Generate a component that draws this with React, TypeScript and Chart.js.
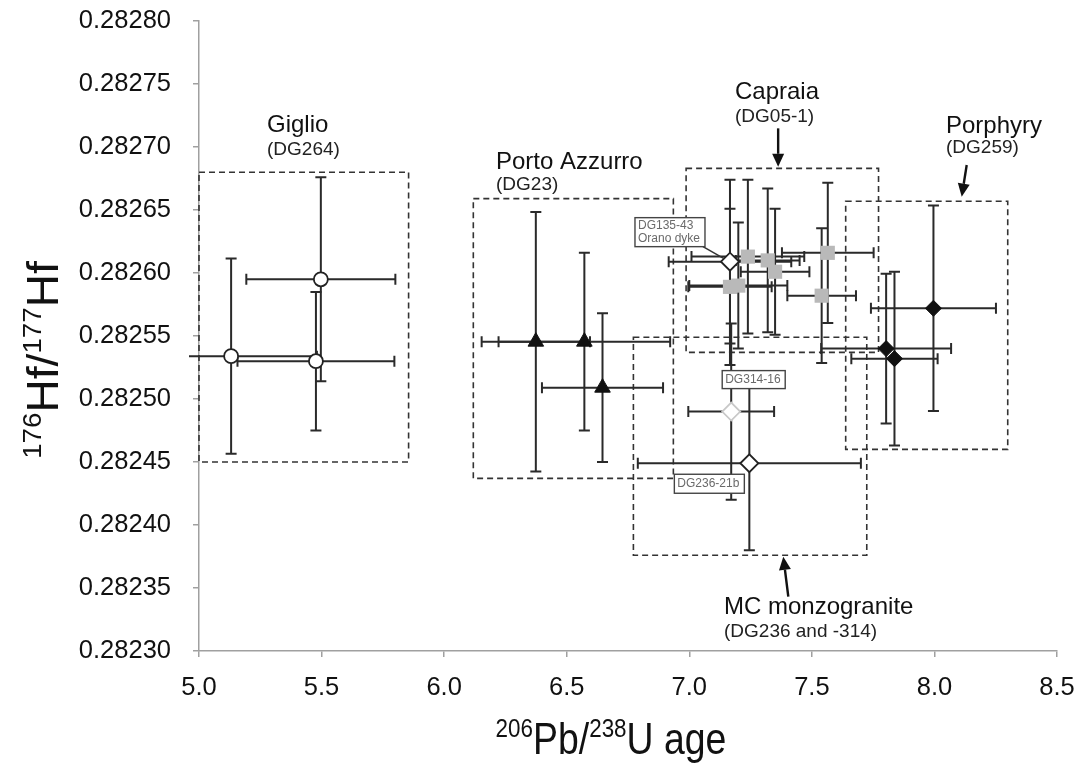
import React, { useEffect, useRef } from "react";
import { Chart, registerables } from "chart.js";

Chart.register(...registerables);

// ---------------- data ----------------
const xMin = 5.0;
const xMax = 8.5;
const xStep = 0.5;
const yMin = 0.2823;
const yMax = 0.2828;
const yStep = 0.00005;

// Giglio (DG264) – open circles
const giglioX = [5.131, 5.477, 5.497];
const giglioY = [0.282534, 0.28253, 0.282595];
const giglioXErr = [0.35, 0.32, 0.304];
const giglioYErr = [0.0000775, 0.000055, 0.000081];

// Porto Azzurro (DG23) – black triangles
const portoX = [6.374, 6.572, 6.646];
const portoY = [0.2825455, 0.2825455, 0.282509];
const portoXErr = [0.221, 0.35, 0.247];
const portoYErr = [0.000103, 0.0000705, 0.000059];

// Capraia (DG05-1) – grey squares
const capraiaX = [7.239, 7.32, 7.35, 7.2, 7.166, 7.565, 7.54];
const capraiaY = [0.282613, 0.28261, 0.282601, 0.28259, 0.282589, 0.282616, 0.282582];
const capraiaXErr = [0.23, 0.13, 0.14, 0.2, 0.17, 0.187, 0.14];
const capraiaYErr = [0.000061, 0.000057, 0.00005, 0.00005, 0.000062, 0.0000556, 0.0000535];

// Porphyry (DG259) – black diamonds
const porphyryX = [7.996, 7.803, 7.837];
const porphyryY = [0.282572, 0.28254, 0.282532];
const porphyryXErr = [0.255, 0.265, 0.176];
const porphyryYErr = [0.0000815, 0.0000595, 0.000069];

// Single labelled samples – open diamonds
const singleNames = ["DG135-43", "DG236-21b", "DG314-16"];
const singleX = [7.166, 7.245, 7.171];
const singleY = [0.282609, 0.282449, 0.28249];
const singleXErr = [0.25, 0.455, 0.175];
const singleYErr = [0.000065, 0.000069, 0.00007];

// Dashed group boxes
const boxXLo = [5.0, 6.119, 6.987, 7.638, 6.772];
const boxXHi = [5.855, 6.935, 7.772, 8.299, 7.724];
const boxYLo = [0.28245, 0.282437, 0.282537, 0.28246, 0.282376];
const boxYHi = [0.28268, 0.282659, 0.282683, 0.282657, 0.282549];

// Group labels
const groupTitles = ["Giglio", "Porto Azzurro", "Capraia", "Porphyry", "MC monzogranite"];
const groupSubs = ["(DG264)", "(DG23)", "(DG05-1)", "(DG259)", "(DG236 and -314)"];
const groupLabelX = [5.2774, 6.2115, 7.1865, 8.0472, 7.1416];
const groupTitleY = [0.2827175, 0.2826881, 0.2827437, 0.2827167, 0.2823349];
const groupSubY = [0.2826976, 0.2826698, 0.2827238, 0.2826992, 0.2823151];

// Arrows (tail -> head)
const arrowX0 = [7.3625, 8.1317, 7.4039];
const arrowY0 = [0.2827148, 0.2826857, 0.2823431];
const arrowX1 = [7.3625, 8.1113, 7.3835];
const arrowY1 = [0.2826843, 0.2826606, 0.2823748];

// Callout label texts for single samples
const calloutLines = [["DG135-43", "Orano dyke"], ["DG236-21b"], ["DG314-16"]];

// ---------------- styles ----------------
const FONT = '"Liberation Sans", Arial, Helvetica, sans-serif';
const calloutBox = [
  { dx: -95, dy: -44, w: 70, h: 29, leader: true },
  { dx: -75, dy: 11, w: 70, h: 19, leader: false },
  { dx: -9, dy: -41, w: 63, h: 18, leader: false },
];

type Group = { x: number[]; y: number[]; xe: number[]; ye: number[] };
const errGroups: Group[] = [
  { x: giglioX, y: giglioY, xe: giglioXErr, ye: giglioYErr },
  { x: portoX, y: portoY, xe: portoXErr, ye: portoYErr },
  { x: capraiaX, y: capraiaY, xe: capraiaXErr, ye: capraiaYErr },
  { x: porphyryX, y: porphyryY, xe: porphyryXErr, ye: porphyryYErr },
  { x: singleX, y: singleY, xe: singleXErr, ye: singleYErr },
];

const pts = (xs: number[], ys: number[]) => xs.map((x, i) => ({ x, y: ys[i] }));

function drawRich(
  ctx: CanvasRenderingContext2D,
  segs: { t: string; sup?: boolean }[],
  cx: number,
  cy: number,
  size: number,
  sx: number,
  rotate: boolean
) {
  ctx.save();
  ctx.translate(cx, cy);
  if (rotate) ctx.rotate(-Math.PI / 2);
  ctx.scale(sx, 1);
  const supSize = size * 0.6;
  let total = 0;
  const widths = segs.map((s) => {
    ctx.font = `${s.sup ? supSize : size}px ${FONT}`;
    const w = ctx.measureText(s.t).width;
    total += w;
    return w;
  });
  let x = -total / 2;
  ctx.fillStyle = "#111";
  ctx.textBaseline = "alphabetic";
  ctx.textAlign = "left";
  const base = size * 0.36;
  segs.forEach((s, i) => {
    ctx.font = `${s.sup ? supSize : size}px ${FONT}`;
    ctx.fillText(s.t, x, s.sup ? base - size * 0.38 : base);
    x += widths[i];
  });
  ctx.restore();
}

const overlayPlugin = {
  id: "overlay",
  beforeDatasetsDraw(chart: any) {
    const ctx: CanvasRenderingContext2D = chart.ctx;
    const xs = chart.scales.x;
    const ys = chart.scales.y;
    const area = chart.chartArea;
    // dashed boxes
    ctx.save();
    ctx.strokeStyle = "#333";
    ctx.lineWidth = 1.6;
    ctx.setLineDash([6, 4]);
    for (let i = 0; i < boxXLo.length; i++) {
      const l = xs.getPixelForValue(boxXLo[i]);
      const r = xs.getPixelForValue(boxXHi[i]);
      const t = ys.getPixelForValue(boxYHi[i]);
      const b = ys.getPixelForValue(boxYLo[i]);
      ctx.strokeRect(l, t, r - l, b - t);
    }
    ctx.restore();
    // error bars
    ctx.save();
    ctx.beginPath();
    ctx.rect(area.left - 10, 0, area.right - area.left + 30, chart.height);
    ctx.clip();
    ctx.strokeStyle = "#2a2a2a";
    ctx.lineWidth = 2;
    const cap = 5.5;
    errGroups.forEach((g) => {
      g.x.forEach((xv, i) => {
        const px = xs.getPixelForValue(xv);
        const py = ys.getPixelForValue(g.y[i]);
        const x0 = xs.getPixelForValue(xv - g.xe[i]);
        const x1 = xs.getPixelForValue(xv + g.xe[i]);
        const y0 = ys.getPixelForValue(g.y[i] + g.ye[i]);
        const y1 = ys.getPixelForValue(g.y[i] - g.ye[i]);
        ctx.beginPath();
        ctx.moveTo(x0, py);
        ctx.lineTo(x1, py);
        ctx.moveTo(x0, py - cap);
        ctx.lineTo(x0, py + cap);
        ctx.moveTo(x1, py - cap);
        ctx.lineTo(x1, py + cap);
        ctx.moveTo(px, y0);
        ctx.lineTo(px, y1);
        ctx.moveTo(px - cap, y0);
        ctx.lineTo(px + cap, y0);
        ctx.moveTo(px - cap, y1);
        ctx.lineTo(px + cap, y1);
        ctx.stroke();
      });
    });
    ctx.restore();
  },
  afterDatasetsDraw(chart: any) {
    const ctx: CanvasRenderingContext2D = chart.ctx;
    const xs = chart.scales.x;
    const ys = chart.scales.y;
    // callouts
    ctx.save();
    singleX.forEach((xv, i) => {
      const px = xs.getPixelForValue(xv);
      const py = ys.getPixelForValue(singleY[i]);
      const b = calloutBox[i];
      const bx = px + b.dx;
      const by = py + b.dy;
      if (b.leader) {
        ctx.strokeStyle = "#333";
        ctx.lineWidth = 1.5;
        ctx.beginPath();
        ctx.moveTo(bx + b.w - 2, by + b.h);
        ctx.lineTo(px - 6, py - 3);
        ctx.stroke();
      }
      ctx.fillStyle = "#fff";
      ctx.fillRect(bx, by, b.w, b.h);
      ctx.strokeStyle = "#444";
      ctx.lineWidth = 1.4;
      ctx.strokeRect(bx, by, b.w, b.h);
      ctx.fillStyle = "#6a6a6a";
      ctx.font = `12px ${FONT}`;
      ctx.textAlign = "left";
      ctx.textBaseline = "middle";
      const lines = calloutLines[i];
      lines.forEach((ln, k) => {
        ctx.fillText(ln, bx + 3, by + b.h / 2 + (k - (lines.length - 1) / 2) * 13.5);
      });
    });
    ctx.restore();
    // arrows
    ctx.save();
    ctx.strokeStyle = "#111";
    ctx.fillStyle = "#111";
    ctx.lineWidth = 2.4;
    arrowX0.forEach((_, i) => {
      const ax = xs.getPixelForValue(arrowX0[i]);
      const ay = ys.getPixelForValue(arrowY0[i]);
      const bx = xs.getPixelForValue(arrowX1[i]);
      const by = ys.getPixelForValue(arrowY1[i]);
      const ang = Math.atan2(by - ay, bx - ax);
      const hl = 13;
      const hw = 6;
      const hx = bx - Math.cos(ang) * hl;
      const hy = by - Math.sin(ang) * hl;
      ctx.beginPath();
      ctx.moveTo(ax, ay);
      ctx.lineTo(hx, hy);
      ctx.stroke();
      ctx.beginPath();
      ctx.moveTo(bx, by);
      ctx.lineTo(hx + Math.sin(ang) * hw, hy - Math.cos(ang) * hw);
      ctx.lineTo(hx - Math.sin(ang) * hw, hy + Math.cos(ang) * hw);
      ctx.closePath();
      ctx.fill();
    });
    ctx.restore();
    // group labels
    ctx.save();
    ctx.textAlign = "left";
    ctx.textBaseline = "middle";
    groupTitles.forEach((t, i) => {
      const px = xs.getPixelForValue(groupLabelX[i]);
      ctx.fillStyle = "#111";
      ctx.font = `24px ${FONT}`;
      ctx.fillText(t, px, ys.getPixelForValue(groupTitleY[i]));
      ctx.fillStyle = "#222";
      ctx.font = `19px ${FONT}`;
      ctx.fillText(groupSubs[i], px, ys.getPixelForValue(groupSubY[i]));
    });
    ctx.restore();
  },
  afterDraw(chart: any) {
    const ctx: CanvasRenderingContext2D = chart.ctx;
    drawRich(
      ctx,
      [{ t: "206", sup: true }, { t: "Pb/" }, { t: "238", sup: true }, { t: "U age" }],
      611,
      738,
      44,
      0.85,
      false
    );
    drawRich(
      ctx,
      [{ t: "176", sup: true }, { t: "Hf/" }, { t: "177", sup: true }, { t: "Hf" }],
      42,
      360,
      44,
      1.05,
      true
    );
  },
};

export default function App() {
  const ref = useRef<HTMLCanvasElement | null>(null);
  useEffect(() => {
    if (!ref.current) return;
    const chart = new Chart(ref.current, {
      type: "scatter",
      data: {
        datasets: [
          {
            label: "DG135-43",
            data: [{ x: singleX[0], y: singleY[0] }],
            pointStyle: "rectRot",
            pointRadius: 9,
            backgroundColor: "#fff",
            borderColor: "#222",
            borderWidth: 1.8,
          },
          {
            label: "DG236-21b",
            data: [{ x: singleX[1], y: singleY[1] }],
            pointStyle: "rectRot",
            pointRadius: 9,
            backgroundColor: "#fff",
            borderColor: "#222",
            borderWidth: 1.8,
          },
          {
            label: "DG314-16",
            data: [{ x: singleX[2], y: singleY[2] }],
            pointStyle: "rectRot",
            pointRadius: 9,
            backgroundColor: "#fff",
            borderColor: "#c8c8c8",
            borderWidth: 1.8,
          },
          {
            label: "Giglio",
            data: pts(giglioX, giglioY),
            pointStyle: "circle",
            pointRadius: 7,
            backgroundColor: "#fff",
            borderColor: "#222",
            borderWidth: 1.8,
          },
          {
            label: "Porto Azzurro",
            data: pts(portoX, portoY),
            pointStyle: "triangle",
            pointRadius: 9,
            backgroundColor: "#111",
            borderColor: "#111",
            borderWidth: 1,
          },
          {
            label: "Capraia",
            data: pts(capraiaX, capraiaY),
            pointStyle: "rect",
            pointRadius: 10,
            backgroundColor: "#b9b9b9",
            borderColor: "#b9b9b9",
            borderWidth: 0,
          },
          {
            label: "Porphyry",
            data: pts(porphyryX, porphyryY),
            pointStyle: "rectRot",
            pointRadius: 8,
            backgroundColor: "#111",
            borderColor: "#111",
            borderWidth: 1,
          },
        ],
      },
      options: {
        animation: false,
        responsive: true,
        maintainAspectRatio: false,
        layout: { padding: { top: 21, right: 19, left: 0, bottom: 0 } },
        plugins: {
          legend: { display: false },
          tooltip: { enabled: false },
        },
        scales: {
          x: {
            type: "linear",
            min: xMin,
            max: xMax,
            ticks: {
              stepSize: xStep,
              autoSkip: false,
              maxRotation: 0,
              padding: 16,
              color: "#111",
              font: { size: 25.5, family: FONT },
              callback: (v: any) => Number(v).toFixed(1),
            },
            grid: {
              display: true,
              drawOnChartArea: false,
              drawTicks: true,
              tickLength: 6,
              color: "#a0a0a0",
              lineWidth: 1.5,
            },
            border: { display: true, color: "#a0a0a0", width: 1.5 },
            afterFit: (s: any) => {
              s.height = 114;
              s.paddingLeft = 0;
              s.paddingRight = 0;
            },
          },
          y: {
            type: "linear",
            min: yMin,
            max: yMax,
            ticks: {
              stepSize: yStep,
              autoSkip: false,
              padding: 22,
              color: "#111",
              font: { size: 25.5, family: FONT },
              callback: (v: any) => Number(v).toFixed(5),
            },
            grid: {
              display: true,
              drawOnChartArea: false,
              drawTicks: true,
              tickLength: 6,
              color: "#a0a0a0",
              lineWidth: 1.5,
            },
            border: { display: true, color: "#a0a0a0", width: 1.5 },
            afterFit: (s: any) => {
              s.width = 199;
              s.paddingTop = 0;
              s.paddingBottom = 0;
            },
          },
        },
      } as any,
      plugins: [overlayPlugin],
    });
    return () => chart.destroy();
  }, []);

  return (
    <div style={{ position: "absolute", left: 0, top: 0, width: 1076, height: 765, background: "#fff" }}>
      <canvas ref={ref} />
    </div>
  );
}
